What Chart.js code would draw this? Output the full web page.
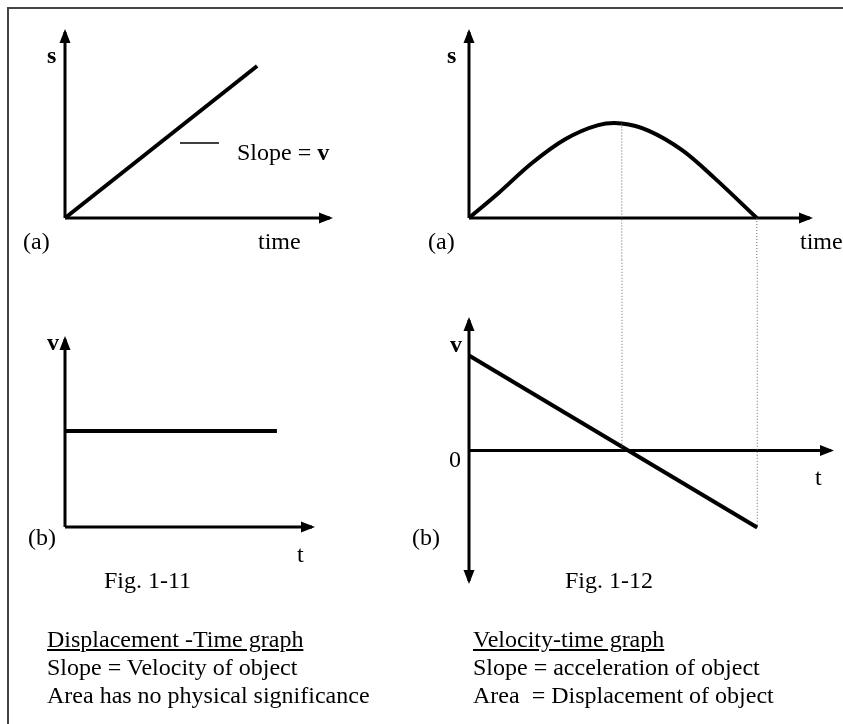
<!DOCTYPE html>
<html>
<head>
<meta charset="utf-8">
<script src="https://cdn.jsdelivr.net/npm/chart.js@4.4.0/dist/chart.umd.min.js"></script>
<style>
    html, body { margin: 0; padding: 0; background: #fff; }
    #page { position: relative; width: 843px; height: 724px; overflow: hidden; font-family: "Liberation Serif", "Times New Roman", serif; color: #000; }
    #frame { position: absolute; left: 7px; top: 7px; width: 900px; height: 800px; border-left: 2px solid #444; border-top: 2px solid #444; }
    canvas { position: absolute; }
    .lbl { position: absolute; font-size: 24px; line-height: 24px; white-space: pre; }
    .b { font-weight: bold; }
    .u { text-decoration: underline; }
</style>
</head>
<body>
<div id="page">
    <div id="frame"></div>
    <canvas id="figA" width="421" height="260" style="left:0;top:0"></canvas>
    <canvas id="figC" width="422" height="260" style="left:421px;top:0"></canvas>
    <canvas id="figB" width="421" height="370" style="left:0;top:260px"></canvas>
    <canvas id="figD" width="422" height="370" style="left:421px;top:260px"></canvas>

    <!-- Fig. 1-11 -->
    <div class="lbl b" style="left:47px;top:43px">s</div>
    <div class="lbl" style="left:237px;top:140px">Slope = <b>v</b></div>
    <div class="lbl" style="left:23px;top:229px">(a)</div>
    <div class="lbl" style="left:258px;top:229px">time</div>
    <div class="lbl b" style="left:47px;top:330px">v</div>
    <div class="lbl" style="left:28px;top:525px">(b)</div>
    <div class="lbl" style="left:297px;top:542px">t</div>
    <div class="lbl" style="left:104px;top:568px">Fig. 1-11</div>

    <!-- Fig. 1-12 -->
    <div class="lbl b" style="left:447px;top:43px">s</div>
    <div class="lbl" style="left:428px;top:229px">(a)</div>
    <div class="lbl" style="left:800px;top:229px">time</div>
    <div class="lbl b" style="left:450px;top:332px">v</div>
    <div class="lbl" style="left:449px;top:447px">0</div>
    <div class="lbl" style="left:815px;top:465px">t</div>
    <div class="lbl" style="left:412px;top:525px">(b)</div>
    <div class="lbl" style="left:565px;top:568px">Fig. 1-12</div>

    <!-- captions -->
    <div class="lbl u" style="left:47px;top:627px">Displacement -Time graph</div>
    <div class="lbl" style="left:47px;top:655px">Slope = Velocity of object</div>
    <div class="lbl" style="left:47px;top:683px">Area has no physical significance</div>
    <div class="lbl u" style="left:473px;top:627px">Velocity-time graph</div>
    <div class="lbl" style="left:473px;top:655px">Slope = acceleration of object</div>
    <div class="lbl" style="left:473px;top:683px">Area  = Displacement of object</div>
</div>

<script>
// Fig 1-11 (a): displacement vs time, straight line
var sLineTime = [0, 7.25];
var sLineDisp = [0, 8.17];
var slopeMarkTime = [4.34, 5.81];
var slopeMarkDisp = [4.03, 4.03];

// Fig 1-11 (b): constant velocity
var vConstTime = [0, 8.58];
var vConstVel = [5.1, 5.1];

// Fig 1-12 (a): displacement rises then falls back to zero
var sCurveTime = [0, 0.86, 1.84, 2.82, 3.79, 4.48, 5.26, 6.24, 7.21, 8.44];
var sCurveDisp = [0, 1.33, 2.94, 4.23, 4.99, 5.08, 4.70, 3.66, 2.13, 0];

// Fig 1-12 (b): velocity falls linearly through zero
var vLineTime = [0, 8.44];
var vLineVel = [5.1, -4.13];

// times marked by the dotted guide lines (peak of s, end of motion)
var markTimes = [4.48, 8.44];
var peakDisp = 5.08;

function pts(xs, ys) {
    return xs.map(function (x, i) { return { x: x, y: ys[i] }; });
}

// draws arrow heads on datasets that ask for them
const arrowHeads = {
    id: 'arrowHeads',
    afterDatasetsDraw(chart) {
        const ctx = chart.ctx;
        chart.data.datasets.forEach(function (ds, i) {
            if (!ds.arrows) return;
            const p = chart.getDatasetMeta(i).data;
            const n = p.length;
            if (ds.arrows === 'end' || ds.arrows === 'both') head(ctx, p[n - 2], p[n - 1]);
            if (ds.arrows === 'both') head(ctx, p[1], p[0]);
        });
    }
};

function head(ctx, a, b) {
    const ang = Math.atan2(b.y - a.y, b.x - a.x);
    ctx.save();
    ctx.translate(b.x, b.y);
    ctx.rotate(ang);
    ctx.beginPath();
    ctx.moveTo(3, 0);
    ctx.lineTo(-11, -5.5);
    ctx.lineTo(-11, 5.5);
    ctx.closePath();
    ctx.fillStyle = '#000';
    ctx.fill();
    ctx.restore();
}

function axis(data, arrows) {
    return { data: data, arrows: arrows, borderColor: '#000', borderWidth: 3, borderCapStyle: 'butt' };
}
function curve(data, width) {
    return { data: data, borderColor: '#000', borderWidth: width || 4 };
}
function dotted(data) {
    return { data: data, borderColor: '#666', borderWidth: 1, borderDash: [1, 2] };
}

function makeChart(id, datasets, xr, yr, pad) {
    datasets.forEach(function (d) {
        d.showLine = true;
        d.pointRadius = 0;
        d.clip = false;
        d.fill = false;
        if (d.tension === undefined) d.tension = 0;
    });
    return new Chart(document.getElementById(id), {
        type: 'scatter',
        data: { datasets: datasets },
        options: {
            responsive: false,
            animation: false,
            events: [],
            layout: { padding: pad },
            plugins: { legend: { display: false }, tooltip: { enabled: false } },
            scales: {
                x: { type: 'linear', display: false, min: xr[0], max: xr[1] },
                y: { type: 'linear', display: false, min: yr[0], max: yr[1] }
            }
        },
        plugins: [arrowHeads]
    });
}

// Fig 1-11 (a)
makeChart('figA', [
    axis([{ x: 0, y: 0 }, { x: 0, y: 10 }], 'end'),
    axis([{ x: 0, y: 0 }, { x: 10, y: 0 }], 'end'),
    curve(pts(sLineTime, sLineDisp)),
    curve(pts(slopeMarkTime, slopeMarkDisp), 1.5)
], [0, 10], [0, 10], { left: 65, top: 32, right: 91, bottom: 42 });

// Fig 1-11 (b)
makeChart('figB', [
    axis([{ x: 0, y: 0 }, { x: 0, y: 10 }], 'end'),
    axis([{ x: 0, y: 0 }, { x: 10, y: 0 }], 'end'),
    curve(pts(vConstTime, vConstVel))
], [0, 10], [0, 10], { left: 65, top: 79, right: 109, bottom: 103 });

// Fig 1-12 (a)
var curveSet = curve(pts(sCurveTime, sCurveDisp));
curveSet.tension = 0.35;
makeChart('figC', [
    dotted([{ x: markTimes[0], y: peakDisp }, { x: markTimes[0], y: -6 }]),
    dotted([{ x: markTimes[1], y: 0 }, { x: markTimes[1], y: -6 }]),
    axis([{ x: 0, y: 0 }, { x: 0, y: 10 }], 'end'),
    axis([{ x: 0, y: 0 }, { x: 10, y: 0 }], 'end'),
    curveSet
], [0, 10], [0, 10], { left: 48, top: 32, right: 33, bottom: 42 });

// Fig 1-12 (b)
makeChart('figD', [
    dotted([{ x: markTimes[0], y: 12 }, { x: markTimes[0], y: 0 }]),
    dotted([{ x: markTimes[1], y: 12 }, { x: markTimes[1], y: vLineVel[1] }]),
    axis([{ x: 0, y: -7 }, { x: 0, y: 7 }], 'both'),
    axis([{ x: 0, y: 0 }, { x: 10.6, y: 0 }], 'end'),
    curve(pts(vLineTime, vLineVel))
], [0, 10.6], [-7, 7], { left: 48, top: 60, right: 12, bottom: 49 });
</script>
</body>
</html>
